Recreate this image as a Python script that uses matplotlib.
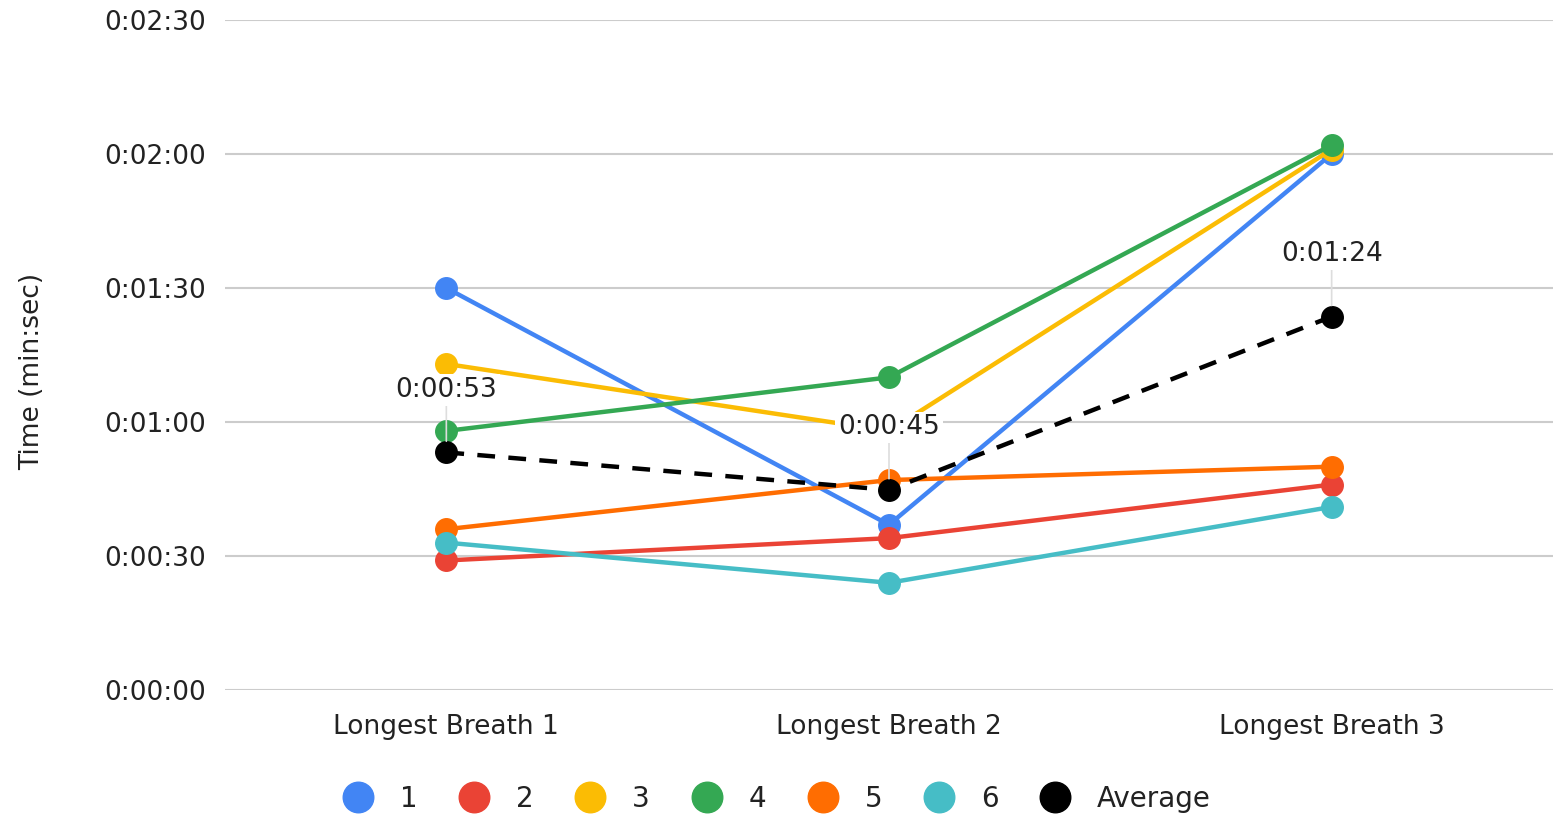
import matplotlib.pyplot as plt
from matplotlib.lines import Line2D

categories = ["Longest Breath 1", "Longest Breath 2", "Longest Breath 3"]

# seconds per person
p1 = [90, 37, 120]
p2 = [29, 34, 46]
p3 = [73, 58, 121]
p4 = [58, 70, 122]
p5 = [36, 47, 50]
p6 = [33, 24, 41]
average = [53.2, 44.8, 83.6]

series_names = ["1", "2", "3", "4", "5", "6"]
series = [p1, p2, p3, p4, p5, p6]
colors = ["#4285F4", "#EA4335", "#FBBC04", "#34A853", "#FF6D01", "#46BDC6"]

y_ticks = [0, 30, 60, 90, 120, 150]


def fmt_time(s):
    s = int(round(s))
    return "%d:%02d:%02d" % (s // 3600, (s % 3600) // 60, s % 60)


def plot_chart():
    plt.rcParams["font.family"] = ["DejaVu Sans"]
    fig = plt.figure(figsize=(15.55, 8.16), dpi=100)
    ax = fig.add_axes([0.1447, 0.1544, 0.8540, 0.8211])

    x = list(range(len(categories)))

    for name, vals, c in zip(series_names, series, colors):
        ax.plot(x, vals, color=c, lw=3.2, marker="o", markersize=15.5,
                solid_capstyle="round", zorder=3, label=name)

    ax.plot(x, average, color="black", lw=3.2, ls=(0, (4, 3)), marker="o",
            markersize=15.5, zorder=4, label="Average")

    for xi, v in zip(x, average):
        ax.annotate(fmt_time(v), xy=(xi, v), xytext=(0, 45),
                    textcoords="offset points", ha="center", va="center",
                    fontsize=19, color="#222222", zorder=6,
                    bbox=dict(boxstyle="square,pad=0.1", fc="white", ec="none"),
                    arrowprops=dict(arrowstyle="-", color="#dddddd", lw=1.2,
                                    shrinkA=0, shrinkB=8))

    ax.set_xlim(-0.5, 2.5)
    ax.set_ylim(0, 150)
    ax.set_xticks(x)
    ax.set_xticklabels(categories)
    ax.set_yticks(y_ticks)
    ax.set_yticklabels([fmt_time(v) for v in y_ticks])
    ax.tick_params(axis="both", length=0, labelsize=19, colors="#222222")
    ax.tick_params(axis="y", pad=14)
    ax.tick_params(axis="x", pad=17)
    ax.grid(axis="y", color="#cccccc", lw=1.5)
    ax.set_axisbelow(True)
    for sp in ax.spines.values():
        sp.set_visible(False)

    fig.text(0.0205, 0.545, "Time (min:sec)", rotation=90, ha="center",
             va="center", fontsize=19, color="#222222")

    handles = [Line2D([], [], ls="none", marker="o", markersize=22, color=c)
               for c in colors + ["black"]]
    fig.legend(handles, series_names + ["Average"], loc="lower center",
               bbox_to_anchor=(0.5, -0.027), ncol=7, frameon=False,
               fontsize=20, handlelength=1.0, handletextpad=1.0,
               columnspacing=1.55, labelcolor="#222222")

    fig.savefig("out.png", dpi=100)


if __name__ == "__main__":
    plot_chart()
